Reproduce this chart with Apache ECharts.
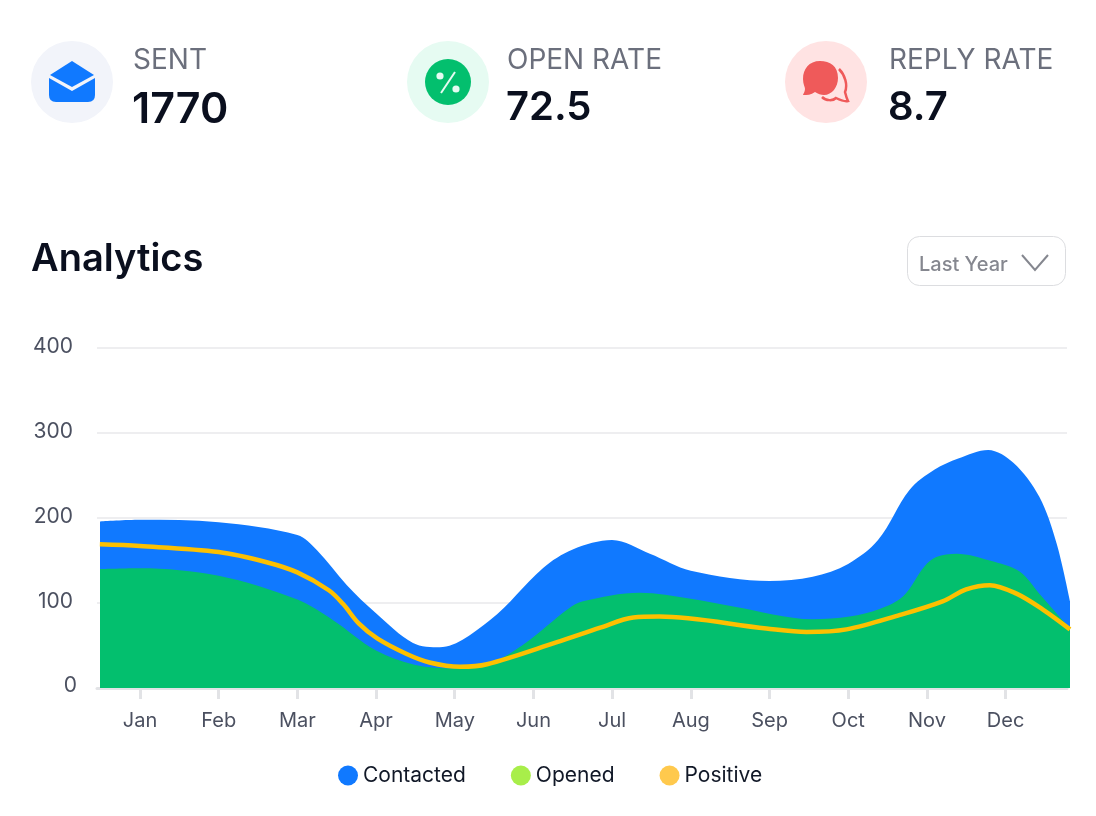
<!DOCTYPE html>
<html>
<head>
<meta charset="utf-8">
<style>
	html, body { margin: 0; padding: 0; background: #fff; }
	#chart { width: 1096px; height: 816px; }
</style>
<script src="https://cdn.jsdelivr.net/npm/echarts@6/dist/echarts.min.js"></script>
</head>
<body>
<div id="chart"></div>
<script>
var months = ['Jan', 'Feb', 'Mar', 'Apr', 'May', 'Jun', 'Jul', 'Aug', 'Sep', 'Oct', 'Nov', 'Dec'];
var yTicks = [0, 100, 200, 300, 400];

// month position of each reading, 0 = Jan tick
var contactedAt = [-0.51, 0, 1, 2, 2.25, 2.63, 3, 3.47, 3.81, 4.45, 5.12, 5.5, 6, 6.48, 7, 8, 8.55, 9, 9.38, 9.78, 10.1, 10.4, 10.78, 11.1, 11.43, 11.65, 11.82];
var contacted = [196, 198, 195, 180, 162, 121, 88, 53, 48, 80, 141, 163, 174, 158, 138, 126, 131, 146, 174, 233, 257, 270, 280, 265, 225, 170, 102];

var openedAt = [-0.51, 0, 1, 2, 2.45, 3, 3.5, 4, 4.45, 4.9, 5.44, 5.63, 6.35, 7, 7.54, 8.55, 9.02, 9.4, 9.7, 9.97, 10.12, 10.38, 10.8, 11.18, 11.43, 11.82];
var opened = [140, 141, 132, 104, 80, 44, 27, 23, 29, 53, 93, 102, 112, 105, 96, 81, 84, 93, 108, 143, 154, 158, 150, 137, 111, 70];

var positiveAt = [-0.51, 0, 1, 1.61, 2, 2.4, 2.58, 2.78, 3.02, 3.39, 3.68, 4.07, 4.41, 5.3, 5.85, 6.27, 6.6, 7.96, 8.47, 8.98, 9.66, 10.2, 10.5, 10.8, 11.14, 11.48, 11.82];
var positive = [169, 167, 160, 148, 136, 115, 99, 76, 58, 40, 30, 25, 28, 54, 71, 83, 84, 70, 66, 69, 86, 102, 116, 121, 111, 92, 69];

function pairs( at, values ) {
	return at.map( function ( x, i ) { return [x, values[i]]; } );
}

function areaSeries( name, at, values, markColor, fillColor ) {
	return {
		name: name,
		type: 'line',
		xAxisIndex: 1,
		yAxisIndex: 1,
		smooth: 0.33,
		symbol: 'none',
		data: pairs( at, values ),
		itemStyle: { color: markColor },
		lineStyle: { width: 0 },
		areaStyle: { color: fillColor, opacity: 1 }
	};
}

function label( x, y, text, size, weight, color ) {
	return {
		type: 'text',
		x: x,
		y: y,
		style: {
			text: text,
			fontFamily: 'Inter',
			fontSize: size,
			fontWeight: weight,
			fill: color,
			verticalAlign: 'middle'
		}
	};
}

function circle( cx, cy, r, color ) {
	return { type: 'circle', shape: { cx: cx, cy: cy, r: r }, style: { fill: color } };
}

// Icon outlines that the plain graphic shapes can't do
echarts.graphic.registerShape( 'envelopeBody', echarts.graphic.extendPath( 'M49 78 L72 91 L95 78 L95 95 Q95 102 88 102 L56 102 Q49 102 49 95 Z', {} ) );
echarts.graphic.registerShape( 'bubbleFront', echarts.graphic.extendPath( 'M838 78 C838 66 830 61 820 61 C809 61 803 69 803 79 C803 84 805 87 805 89 C805 92 803 94 803 95 C807 95 811 95 815 92 C818 94 821 95 824 95 C832 95 838 87 838 78 Z', {} ) );
echarts.graphic.registerShape( 'bubbleBack', echarts.graphic.extendPath( 'M839 69 C845 75 848 85 845 92 C846 96 847 99 848 101 C844 102 840 100 836 98 C833 101 826 101 822 97', {} ) );

var chart = echarts.init( document.getElementById( 'chart' ), null, { renderer: 'canvas' } );

var monthTicks = months.map( function ( m, i ) { return i; } );

chart.setOption( {
	animation: false,
	textStyle: { fontFamily: 'Inter' },
	// The curves sit 3px to the right of the gridlines, so they get their own grid
	grid: [
		{ left: 97, right: 29, top: 348, height: 340 },
		{ left: 100, right: 26, top: 348, height: 340 }
	],
	legend: {
		left: 338,
		top: 765,
		padding: 0,
		itemWidth: 20,
		itemHeight: 20,
		itemGap: 45,
		icon: 'circle',
		selectedMode: false,
		textStyle: { fontFamily: 'Inter', fontSize: 21, color: '#111827' },
		data: ['Contacted', 'Opened', 'Positive']
	},
	xAxis: [
		{
			type: 'value',
			min: -0.546,
			max: 11.78,
			splitLine: { show: false },
			axisLine: { show: true, onZero: false, lineStyle: { color: '#e2e3e6', width: 3 } },
			axisTick: {
				show: true,
				length: 11,
				customValues: monthTicks,
				lineStyle: { color: '#e2e3e6', width: 3 }
			},
			axisLabel: {
				customValues: monthTicks,
				margin: 23,
				fontFamily: 'Inter',
				fontSize: 20,
				color: '#4b5060',
				formatter: function ( value ) { return months[value]; }
			}
		},
		{ type: 'value', gridIndex: 1, min: -0.508, max: 11.82, show: false }
	],
	yAxis: [
		{
			type: 'value',
			min: yTicks[0],
			max: yTicks[yTicks.length - 1],
			interval: 100,
			axisLine: { show: false },
			axisTick: { show: false },
			splitLine: { lineStyle: { color: '#eeeef0', width: 2 } },
			axisLabel: {
				margin: 17,
				formatter: function ( value ) {
					return value === 0 ? '{zero|0}' : '{num|' + value + '}';
				},
				rich: {
					num: { fontFamily: 'Inter', fontSize: 21, color: '#4b5060', padding: [0, 7, 3, 0] },
					zero: { fontFamily: 'Inter', fontSize: 21, color: '#4b5060', padding: [0, 3, 5, 0] }
				}
			}
		},
		{ type: 'value', gridIndex: 1, min: yTicks[0], max: yTicks[yTicks.length - 1], show: false }
	],
	series: [
		areaSeries( 'Contacted', contactedAt, contacted, '#1079ff', '#1079ff' ),
		areaSeries( 'Opened', openedAt, opened, '#a8ee4a', '#03bf6e' ),
		{
			name: 'Positive',
			type: 'line',
			xAxisIndex: 1,
			yAxisIndex: 1,
			smooth: 0.33,
			symbol: 'none',
			clip: false,
			data: pairs( positiveAt, positive ),
			itemStyle: { color: '#ffc94d' },
			lineStyle: { color: '#fdc000', width: 4.5 }
		}
	],
	graphic: [
		// stat cards
		circle( 72, 82, 41, '#f2f4fa' ),
		{ type: 'polygon', shape: { points: [[50, 75], [72, 61], [94, 75], [72, 87]] }, style: { fill: '#1079ff' } },
		{ type: 'envelopeBody', style: { fill: '#1079ff' } },
		label( 133, 61, 'SENT', 28, 400, '#6b6f7c' ),
		label( 132, 110, '1770', 43, 600, '#0a0f1e' ),

		circle( 448, 82, 41, '#e6fbf2' ),
		circle( 448, 82, 23, '#03bf6e' ),
		circle( 440, 76, 3.6, '#e6fbf2' ),
		circle( 456, 89, 3.6, '#e6fbf2' ),
		{ type: 'line', shape: { x1: 441, y1: 93, x2: 455, y2: 72 }, style: { stroke: '#e6fbf2', lineWidth: 2 } },
		label( 507, 61, 'OPEN RATE', 28, 400, '#6b6f7c' ),
		label( 506, 108, '72.5', 40, 600, '#0a0f1e' ),

		circle( 826, 82, 41, '#ffe3e3' ),
		{ type: 'bubbleFront', style: { fill: '#ef5a5a' } },
		{ type: 'bubbleBack', style: { fill: 'none', stroke: '#ef5a5a', lineWidth: 2.5 } },
		label( 889, 61, 'REPLY RATE', 28, 400, '#6b6f7c' ),
		label( 888, 108, '8.7', 40, 600, '#0a0f1e' ),

		// heading and period picker
		label( 31, 260, 'Analytics', 38, 600, '#0a0f1e' ),
		{
			type: 'rect',
			shape: { x: 907.5, y: 236.5, width: 158, height: 49, r: 12 },
			style: { fill: '#fff', stroke: '#dcdde0', lineWidth: 1 }
		},
		label( 919, 265, 'Last Year', 20, 500, '#85878f' ),
		{
			type: 'polyline',
			shape: { points: [[1022, 255], [1035, 270], [1048, 255]] },
			style: { fill: 'none', stroke: '#85878f', lineWidth: 2 }
		}
	]
} );
</script>
</body>
</html>
